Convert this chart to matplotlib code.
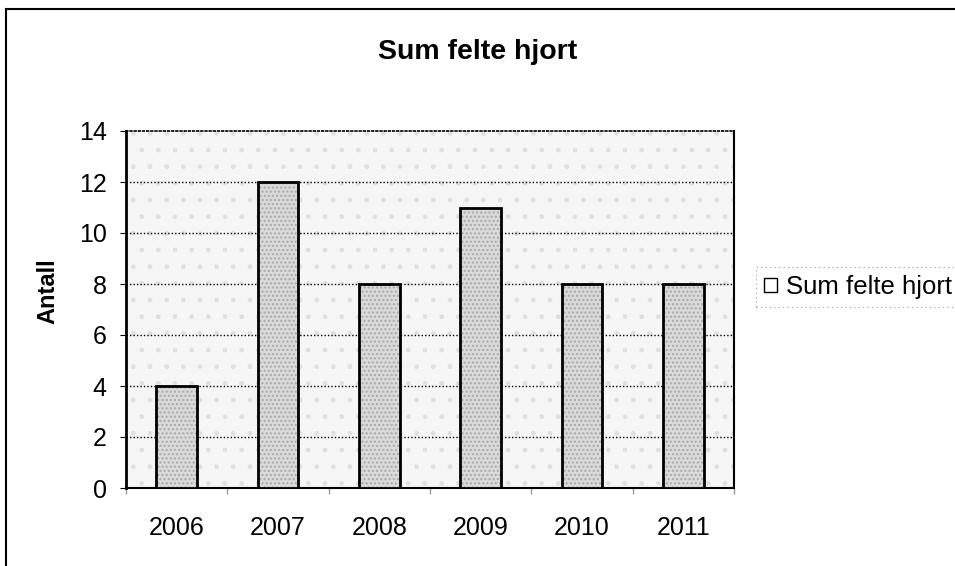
import matplotlib
matplotlib.use('Agg')
import matplotlib.pyplot as plt
import matplotlib.patches as patches

plt.rcParams['font.family'] = ['Liberation Sans', 'DejaVu Sans']

# Data
aar = ['2006', '2007', '2008', '2009', '2010', '2011']
felte = [4, 12, 8, 11, 8, 8]
y_ticks = [0, 2, 4, 6, 8, 10, 12, 14]

fig = plt.figure(figsize=(9.55, 5.66), dpi=100)
ax = fig.add_axes([126 / 955, 1 - 488 / 566, 608 / 955, 357 / 566])

# Plot area bakgrunn (lys prikket grå)
ax.set_facecolor('#f6f6f6')
ax.patch.set_hatch('.')
ax.patch.set_edgecolor('#e0e0e0')

x = list(range(len(aar)))

# Stolper: først fyll med prikker, så svart kant
ax.bar(x, felte, width=0.4, color='#dadada', hatch='....',
       edgecolor='#a8a8a8', linewidth=0, zorder=3)
ax.bar(x, felte, width=0.4, fill=False, edgecolor='black',
       linewidth=2, zorder=4)

ax.set_xlim(-0.5, len(aar) - 0.5)
ax.set_ylim(0, 14)
ax.set_yticks(y_ticks)
ax.tick_params(axis='y', labelsize=18, length=4, direction='out', pad=10)

# Kategorier midt mellom tick-strekene
ax.set_xticks(x)
ax.set_xticklabels(aar)
ax.tick_params(axis='x', which='major', length=0, labelsize=18, pad=20)
ax.set_xticks([i - 0.5 for i in range(len(aar) + 1)], minor=True)
ax.tick_params(axis='x', which='minor', length=4, width=1, color='#999999')

# Rutenett
for yv in y_ticks[1:-1]:
    ax.axhline(yv, color='black', linestyle=(0, (1, 1.5)), linewidth=1, zorder=2)

ax.spines['left'].set_linewidth(2)
ax.spines['top'].set_linestyle((0, (1, 1.5)))
ax.spines['top'].set_linewidth(1.2)
ax.spines['bottom'].set_linestyle((0, (1, 1)))
ax.spines['bottom'].set_linewidth(1.5)
ax.spines['right'].set_linewidth(1.5)

fig.text(0.5, 1 - 52 / 566, 'Sum felte hjort', ha='center', va='center',
         fontsize=20.5, fontweight='bold')
fig.text(48 / 955, 1 - 291 / 566, 'Antall', ha='center', va='center',
         rotation=90, fontsize=17, fontweight='bold')

# Forklaring
handle = patches.Patch(facecolor='white', edgecolor='black', linewidth=1)
leg = fig.legend([handle], ['Sum felte hjort'], loc='center left',
                 bbox_to_anchor=(756 / 955, 1 - 287 / 566), fontsize=18.5,
                 handlelength=0.5, handleheight=0.5, handletextpad=0.35,
                 borderpad=0.3, borderaxespad=0, fancybox=False, frameon=True)
leg.get_frame().set_edgecolor('#888888')
leg.get_frame().set_linestyle((0, (1, 3)))
leg.get_frame().set_linewidth(0.8)

# Ytre ramme
fig.add_artist(patches.Rectangle((6 / 955, -0.1), 1.1, 1.1 - 9 / 566,
                                 transform=fig.transFigure, fill=False,
                                 edgecolor='black', linewidth=1.5))

fig.savefig('out.png', dpi=100)
